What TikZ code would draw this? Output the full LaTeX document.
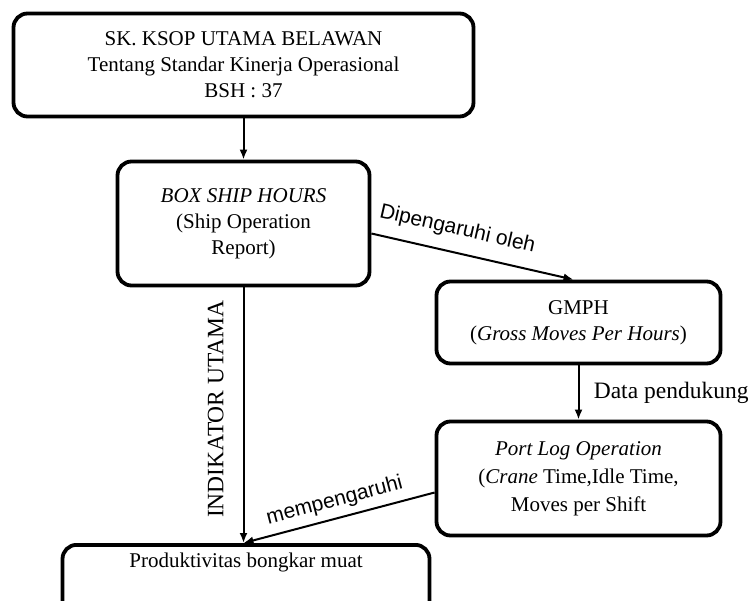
\documentclass[tikz,border=0pt]{standalone}
\usepackage{fontspec}
\setmainfont{Liberation Serif}
\newfontfamily\arialfont{Liberation Sans}
\usetikzlibrary{arrows.meta}

\begin{document}
\begin{tikzpicture}[x=1pt,y=-1pt,
    kotak/.style={draw, line width=3.8pt, rounded corners=14pt, align=center, font=\fontsize{21}{26}\selectfont},
    panah/.style={line width=2pt, -{Latex[length=10pt,width=8pt]}},
    ket/.style={font=\arialfont\fontsize{21}{25}\selectfont},
    ketserif/.style={font=\fontsize{23.5}{28}\selectfont}]
    \clip (0,0) rectangle (751,601);
    \node[kotak, minimum width=460pt, minimum height=103pt] (sk) at (243.5,65) {SK. KSOP UTAMA BELAWAN\\Tentang Standar Kinerja Operasional\\BSH : 37};
    \node[kotak, minimum width=252pt, minimum height=124pt] (bsh) at (243.5,223.5) {\textit{BOX SHIP HOURS}\\(Ship Operation\\Report)};
    \node[kotak, minimum width=284pt, minimum height=82pt] (gmph) at (578.5,322.5) {GMPH\\(\textit{Gross Moves Per Hours})};
    \node[kotak, minimum width=284pt, minimum height=114pt, font=\fontsize{21}{28}\selectfont] (plog) at (578.5,478.5) {\textit{Port Log Operation}\\(\textit{Crane} Time,Idle Time,\\Moves per Shift};
    \node[kotak, anchor=north, minimum width=367pt, inner ysep=8pt, text depth=60pt] (prod) at (246,543) {Produktivitas bongkar muat};
    % arrows
    \draw[panah] (sk) -- (bsh);
    \draw[panah] ([yshift=-10pt]bsh.east) -- node[ket, sloped, above=9pt, pos=0.4] {Dipengaruhi oleh} ([xshift=-5pt]gmph.north);
    \draw[panah] (gmph) -- node[ketserif, right=11pt] {Data pendukung} (plog);
    \draw[panah] (bsh.south) -- node[ketserif, pos=0.476, xshift=-19pt, rotate=90, anchor=south, inner sep=0pt] {INDIKATOR UTAMA} (bsh.south |- prod.north);
    \draw[panah] ([yshift=-14pt]plog.west) -- node[ket, sloped, above=3pt, pos=0.5] {mempengaruhi} (bsh.south |- prod.north);
\end{tikzpicture}
\end{document}
